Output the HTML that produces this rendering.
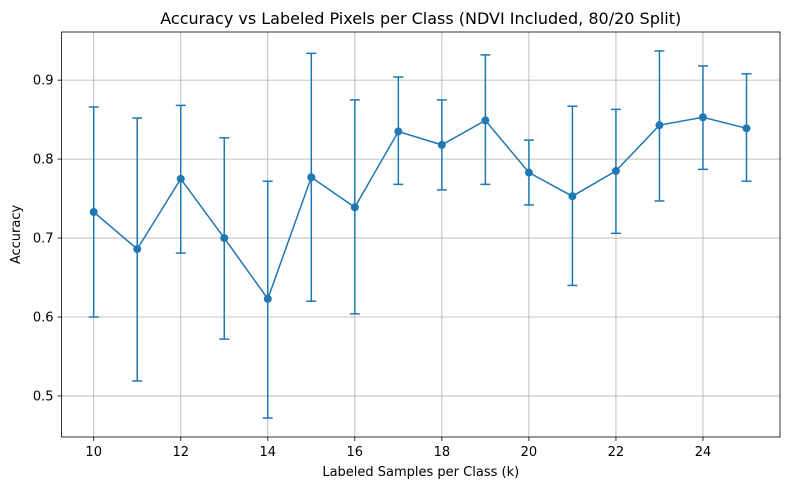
<!DOCTYPE html>
<html><head><meta charset="utf-8"><style>
body{margin:0;background:#fff;font-family:"Liberation Sans","DejaVu Sans",sans-serif}
svg text{font-family:"DejaVu Sans","Liberation Sans",sans-serif}
</style></head><body>
<svg id="chart" width="790" height="490" xmlns="http://www.w3.org/2000/svg"></svg>
<script>
const categories=[10,11,12,13,14,15,16,17,18,19,20,21,22,23,24,25];
const accuracy=[0.733,0.686,0.775,0.700,0.623,0.777,0.739,0.835,0.818,0.849,0.783,0.753,0.785,0.843,0.853,0.839];
const errUpper=[0.866,0.852,0.868,0.827,0.772,0.934,0.875,0.904,0.875,0.932,0.824,0.867,0.863,0.937,0.918,0.908];
const errLower=[0.600,0.519,0.681,0.572,0.472,0.620,0.604,0.768,0.761,0.768,0.742,0.640,0.706,0.747,0.787,0.772];
const xTicks=[10,12,14,16,18,20,22,24];
const yTicks=[0.5,0.6,0.7,0.8,0.9];
const L=61.5,R=780,T=32,B=437,xMin=9.26,xMax=25.77,yMin=0.448,yMax=0.961;
const X=v=>L+(v-xMin)/(xMax-xMin)*(R-L);
const Y=v=>B-(v-yMin)/(yMax-yMin)*(B-T);
const svg=document.getElementById('chart');
const NS='http://www.w3.org/2000/svg';
function mk(tag,attrs,parent){const e=document.createElementNS(NS,tag);for(const k in attrs)e.setAttribute(k,attrs[k]);(parent||svg).appendChild(e);return e;}
const C='#1f77b4';
xTicks.forEach(t=>{const g=mk('line',{x1:X(t),x2:X(t),y1:T,y2:B,stroke:'#b0b0b0','stroke-width':0.8});


const tk=mk('line',{x1:X(t),x2:X(t),y1:B,y2:B+4,stroke:'#000','stroke-width':0.8});


const tx=mk('text',{x:X(t),y:B+19,'text-anchor':'middle','font-size':13});tx.textContent=t;

});
yTicks.forEach(t=>{const g=mk('line',{x1:L,x2:R,y1:Y(t),y2:Y(t),stroke:'#b0b0b0','stroke-width':0.8});


const tk=mk('line',{x1:L-4,x2:L,y1:Y(t),y2:Y(t),stroke:'#000','stroke-width':0.8});


const tx=mk('text',{x:L-8,y:Y(t)+4.5,'text-anchor':'end','font-size':13});tx.textContent=t.toFixed(1);

});
categories.forEach((c,i)=>{const x=X(c);
const g=mk('g',{stroke:C,'stroke-width':1.5});


mk('line',{x1:x,x2:x,y1:Y(errUpper[i]),y2:Y(errLower[i])},g);
mk('line',{x1:x-5,x2:x+5,y1:Y(errUpper[i]),y2:Y(errUpper[i])},g);
mk('line',{x1:x-5,x2:x+5,y1:Y(errLower[i]),y2:Y(errLower[i])},g);});
const line=mk('polyline',{points:categories.map((c,i)=>X(c)+','+Y(accuracy[i])).join(' '),fill:'none',stroke:C,'stroke-width':1.5});


categories.forEach((c,i)=>{const p=mk('circle',{cx:X(c),cy:Y(accuracy[i]),r:4,fill:C});

});
const fr=mk('rect',{x:L,y:T,width:R-L,height:B-T,fill:'none',stroke:'#000','stroke-width':0.8});


const ti=mk('text',{x:(L+R)/2,y:24,'text-anchor':'middle','font-size':16});ti.textContent='Accuracy vs Labeled Pixels per Class (NDVI Included, 80/20 Split)';


const xl=mk('text',{x:(L+R)/2,y:476,'text-anchor':'middle','font-size':13});xl.textContent='Labeled Samples per Class (k)';


const yl=mk('text',{x:0,y:0,'text-anchor':'middle','font-size':13,transform:'translate(20,'+((T+B)/2)+') rotate(-90)'});yl.textContent='Accuracy';


</script>
</body></html>
